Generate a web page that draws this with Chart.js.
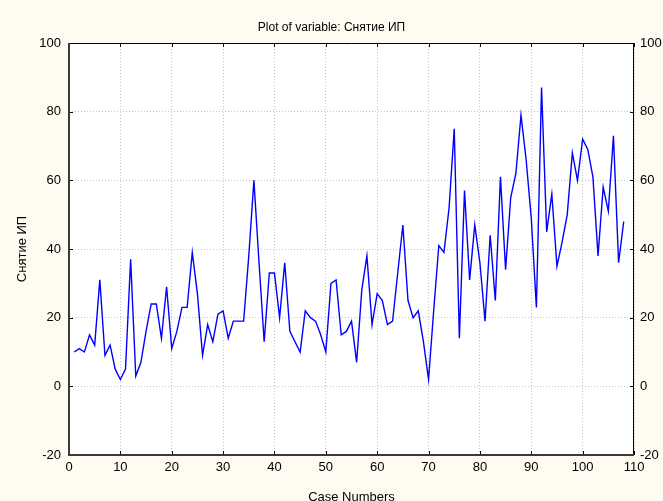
<!DOCTYPE html>
<html>
<head>
<meta charset="utf-8">
<script src="https://cdn.jsdelivr.net/npm/chart.js@4.4.1/dist/chart.umd.min.js"></script>
<style>
  html, body { margin: 0; padding: 0; background: #fffbf0; }
  canvas { display: block; }
</style>
</head>
<body>
<canvas id="chart" width="663" height="501"></canvas>
<script>
// ── Data ──────────────────────────────────────────────────────
const withdrawals = [
  10, 11, 10, 15, 12, 31, 9, 12, 5, 2, 5, 37, 3, 7, 16, 24, 24, 14, 29, 11,
  16, 23, 23, 39, 27, 9, 18, 13, 21, 22, 14, 19, 19, 19, 38, 60, 36, 13, 33, 33,
  20, 36, 16, 13, 10, 22, 20, 19, 15, 10, 30, 31, 15, 16, 19, 7, 28, 38, 18, 27,
  25, 18, 19, 33, 47, 25, 20, 22, 13, 2, 22, 41, 39, 52, 75, 14, 57, 31, 47, 36,
  19, 44, 25, 61, 34, 55, 62, 79, 66, 49, 23, 87, 45, 56, 35, 42, 50, 68, 60, 72,
  69, 61, 38, 58, 51, 73, 36, 48
];
const caseNumbers = withdrawals.map((_, i) => i + 1);
const xTicks = [0, 10, 20, 30, 40, 50, 60, 70, 80, 90, 100, 110];
const yTicks = [-20, 0, 20, 40, 60, 80, 100];

const FONT = { family: '"Liberation Sans", Arial, sans-serif', size: 13 };
const GRID = { color: '#c4c4c4', lineWidth: 1, drawTicks: false };

// ── Frame, white plot area, inner tick marks ──────────────────
const framePlugin = {
  id: 'frame',
  beforeDraw(chart) {
    const { ctx, chartArea: a } = chart;
    ctx.save();
    ctx.fillStyle = '#fffbf0';
    ctx.fillRect(0, 0, chart.width, chart.height);
    ctx.fillStyle = '#ffffff';
    ctx.fillRect(a.left, a.top, a.right - a.left, a.bottom - a.top);
    ctx.restore();
  },
  afterDraw(chart) {
    const { ctx, chartArea: a, scales } = chart;
    ctx.save();
    ctx.strokeStyle = '#000';
    ctx.lineWidth = 1;
    ctx.beginPath();
    for (const t of scales.x.ticks) {
      const px = Math.round(scales.x.getPixelForValue(t.value)) + 0.5;
      ctx.moveTo(px, a.bottom); ctx.lineTo(px, a.bottom - 4);
      ctx.moveTo(px, a.top);    ctx.lineTo(px, a.top + 4);
    }
    for (const t of scales.y.ticks) {
      const py = Math.round(scales.y.getPixelForValue(t.value)) + 0.5;
      ctx.moveTo(a.left, py);  ctx.lineTo(a.left + 4, py);
      ctx.moveTo(a.right, py); ctx.lineTo(a.right - 4, py);
    }
    ctx.stroke();

    // top & right border
    ctx.beginPath();
    ctx.moveTo(a.left, Math.round(a.top) + 0.5);
    ctx.lineTo(a.right, Math.round(a.top) + 0.5);
    ctx.moveTo(Math.round(a.right) - 0.5, a.top);
    ctx.lineTo(Math.round(a.right) - 0.5, a.bottom);
    ctx.stroke();

    // left & bottom axis
    ctx.strokeStyle = '#3a3a3a';
    ctx.lineWidth = 2;
    ctx.beginPath();
    ctx.moveTo(Math.round(a.left), a.top);
    ctx.lineTo(Math.round(a.left), Math.round(a.bottom));
    ctx.lineTo(a.right, Math.round(a.bottom));
    ctx.stroke();
    ctx.restore();
  }
};

new Chart(document.getElementById('chart'), {
  type: 'line',
  data: {
    datasets: [{
      data: withdrawals.map((v, i) => ({ x: caseNumbers[i], y: v })),
      borderColor: '#0000ff',
      borderWidth: 1.4,
      pointRadius: 0,
      tension: 0,
      fill: false,
    }],
  },
  options: {
    responsive: false,
    animation: false,
    devicePixelRatio: 1,
    layout: { padding: 0 },
    plugins: {
      legend: { display: false },
      tooltip: { enabled: false },
      title: {
        display: true,
        text: 'Plot of variable: Снятие ИП',
        color: '#000',
        font: { ...FONT, size: 12, weight: 'normal', lineHeight: 1.2 },
        padding: { top: 20, bottom: 8.6 },
      },
    },
    scales: {
      x: {
        type: 'linear',
        min: 0, max: 110,
        afterBuildTicks: s => { s.ticks = xTicks.map(value => ({ value })); },
        afterFit: s => { s.height = 46; },
        ticks: { color: '#000', font: FONT, padding: 5, maxRotation: 0, autoSkip: false },
        grid: GRID,
        border: { display: false, dash: [1, 2] },
        title: {
          display: true, text: 'Case Numbers', color: '#000',
          font: { ...FONT, lineHeight: 1 }, padding: { top: 0, bottom: -3 },
        },
      },
      y: {
        position: 'left',
        min: -20, max: 100,
        afterBuildTicks: s => { s.ticks = yTicks.map(value => ({ value })); },
        afterFit: s => { s.width = 69; },
        ticks: { color: '#000', font: FONT, padding: 8 },
        grid: GRID,
        border: { display: false, dash: [1, 2] },
        title: {
          display: true, text: 'Снятие ИП', color: '#000',
          font: FONT, padding: { top: 15, bottom: 0 },
        },
      },
      y2: {
        position: 'right',
        min: -20, max: 100,
        afterBuildTicks: s => { s.ticks = yTicks.map(value => ({ value })); },
        afterFit: s => { s.width = 29; },
        ticks: { color: '#000', font: FONT, padding: 6 },
        grid: { drawOnChartArea: false, drawTicks: false },
        border: { display: false },
      },
    },
  },
  plugins: [framePlugin],
});
</script>
</body>
</html>
